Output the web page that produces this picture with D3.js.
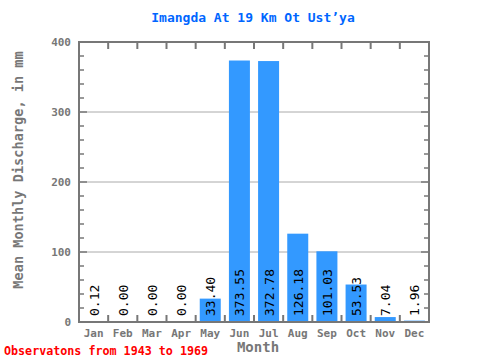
<!DOCTYPE html>
<html><head><meta charset="utf-8">
<script src="https://cdn.jsdelivr.net/npm/d3@7"></script>
<style>body{margin:0;background:#fff}svg{display:block}</style>
</head><body>
<script>
const months = ["Jan","Feb","Mar","Apr","May","Jun","Jul","Aug","Sep","Oct","Nov","Dec"];
const values = [0.12,0.00,0.00,0.00,33.40,373.55,372.78,126.18,101.03,53.53,7.04,1.96];
const yTicks = [0,100,200,300,400];
const title = "Imangda At 19 Km Ot Ust\u2019ya";
const yTitle = "Mean Monthly Discharge, in mm";
const xTitle = "Month";
const note = "Observatons from 1943 to 1969";

const W=480,H=360, L=79,R=429,T=42,B=322;
const svg=d3.select("body").append("svg").attr("width",W).attr("height",H);
const font="'DejaVu Sans Mono', monospace";
const x=d3.scaleBand().domain(months).range([L,R]).paddingInner(0.28).paddingOuter(0.14);
const xb=d3.scaleBand().domain(months).range([L,R]);
const y=d3.scaleLinear().domain([0,400]).range([B,T]);
const gray="#777";

// gridlines
svg.append("g").selectAll("line").data([100,200,300]).join("line")
 .attr("x1",L).attr("x2",R).attr("y1",d=>y(d)).attr("y2",d=>y(d))
 .attr("stroke","#aaa").attr("stroke-width",1);

// bars
svg.append("g").selectAll("rect").data(values).join("rect")
 .attr("x",(d,i)=>x(months[i])).attr("width",x.bandwidth())
 .attr("y",d=>y(d)).attr("height",d=>B-y(d)).attr("fill","#3399ff");

// value labels
svg.append("g").selectAll("text").data(values).join("text")
 .attr("transform",(d,i)=>`translate(${xb(months[i])+xb.bandwidth()/2+5},${B-6}) rotate(-90)`)
 .attr("font-family",font).attr("font-size",13).attr("fill","#000")
 .text(d=>d.toFixed(2));

// minor ticks left and right
const minor=d3.range(0,401,20);
svg.append("g").selectAll("line").data(minor).join("line")
 .attr("x1",L).attr("x2",d=>L+(d%100===0?8:5)).attr("y1",d=>y(d)).attr("y2",d=>y(d))
 .attr("stroke",gray).attr("stroke-width",1.5);
svg.append("g").selectAll("line").data(minor).join("line")
 .attr("x1",R).attr("x2",d=>R-(d%100===0?8:5)).attr("y1",d=>y(d)).attr("y2",d=>y(d))
 .attr("stroke",gray).attr("stroke-width",1.5);
// x ticks at month boundaries top and bottom
const bounds=months.slice(1).map(m=>xb(m));
svg.append("g").selectAll("line").data(bounds).join("line")
 .attr("x1",d=>d).attr("x2",d=>d).attr("y1",T).attr("y2",T+7).attr("stroke",gray).attr("stroke-width",2);
svg.append("g").selectAll("line").data(bounds).join("line")
 .attr("x1",d=>d).attr("x2",d=>d).attr("y1",B).attr("y2",B-7).attr("stroke",gray).attr("stroke-width",2);

// frame
svg.append("rect").attr("x",L).attr("y",T).attr("width",R-L).attr("height",B-T)
 .attr("fill","none").attr("stroke",gray).attr("stroke-width",2);

// y tick labels
svg.append("g").selectAll("text").data(yTicks).join("text")
 .attr("x",L-8).attr("y",d=>y(d)+4).attr("text-anchor","end")
 .attr("font-family",font).attr("font-weight","bold").attr("font-size",11).attr("fill",gray)
 .text(d=>d);
// month labels
svg.append("g").selectAll("text").data(months).join("text")
 .attr("x",d=>xb(d)+xb.bandwidth()/2).attr("y",337).attr("text-anchor","middle")
 .attr("font-family",font).attr("font-weight","bold").attr("font-size",11).attr("fill",gray)
 .text(d=>d);

svg.append("text").attr("x",253).attr("y",22).attr("text-anchor","middle")
 .attr("font-family",font).attr("font-weight","bold").attr("font-size",13).attr("fill","#0066ff").text(title);
svg.append("text").attr("transform",`translate(23,170) rotate(-90)`).attr("text-anchor","middle")
 .attr("font-family",font).attr("font-weight","bold").attr("font-size",13.6).attr("fill",gray).text(yTitle);
svg.append("text").attr("x",258).attr("y",352).attr("text-anchor","middle")
 .attr("font-family",font).attr("font-weight","bold").attr("font-size",14).attr("fill",gray).text(xTitle);
svg.append("text").attr("x",4).attr("y",355)
 .attr("font-family",font).attr("font-weight","bold").attr("font-size",11.7).attr("fill","#ff0000").text(note);
</script>
</body></html>
